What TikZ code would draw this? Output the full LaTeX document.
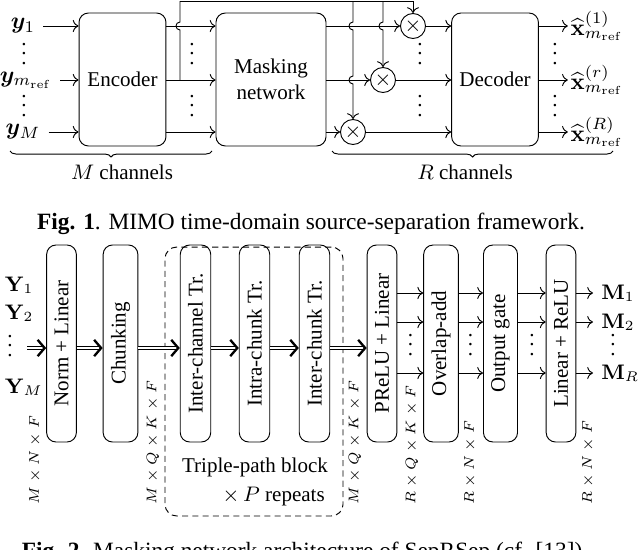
\documentclass[tikz,border=0pt]{standalone}
\usepackage{amsmath}
\usepackage{amssymb}
\usepackage{bm}
\usepackage[no-math]{fontspec}
\setmainfont{Liberation Serif}
\usetikzlibrary{positioning, calc, arrows.meta, decorations.pathreplacing}
\tikzset{
	box/.style={draw, rounded corners=4pt, align=center},
	tall/.style={box, rotate=90, minimum width=84.3pt},
	mult/.style={draw, circle, inner sep=0pt, minimum size=10.7pt},
	dbl/.style={double, double distance=0.8pt, -{Straight Barb[length=3pt,width=7pt,line width=1pt]}},
	dim/.style={rotate=90, anchor=west, font=\fontsize{5.6pt}{6pt}\selectfont, inner sep=0pt},
	hop/.style={out=180, in=180, looseness=1.7}
}

\begin{document}
\begin{tikzpicture}[x=0.428pt, y=-0.428pt, font=\small]
	\useasboundingbox (0,0) rectangle (640,549);
	% Fig. 1: framework
	\node[box, minimum width=37.2pt, minimum height=56.9pt] (enc) at (122.5,79.5) {Encoder};
	\node[box, minimum width=47.1pt, minimum height=56.9pt] (mask) at (271,79.5) {Masking\\network};
	\node[box, minimum width=36.8pt, minimum height=56.9pt] (dec) at (495,79.5) {Decoder};
	\node[font=\normalsize] (y1) at (23,26) {$\bm{y}_1$};
	\node[font=\normalsize] (yr) at (26,80) {$\bm{y}_{m_\mathrm{ref}}$};
	\node[font=\normalsize] (yM) at (23,132) {$\bm{y}_M$};
	\foreach \n in {y1,yr,yM}
		\draw[->] (\n) -- (enc.west |- \n);
	\foreach \n in {y1,yr,yM}
		\draw[->] (enc.east |- \n) -- (mask.west |- \n);
	\node[mult] (m1) at (413,26) {$\times$};
	\node[mult] (m2) at (383,80) {$\times$};
	\node[mult] (m3) at (353,132) {$\times$};
	\foreach \m in {m1,m2,m3} {
		\draw[->] (mask.east |- \m) -- (\m);
		\draw[->] (\m) -- (dec.west |- \m);
	}
	% skip connection with hops
	\coordinate (sk) at (180,80);
	\coordinate (tp) at (180,1.5);
	\draw (sk) -- ($(sk |- y1)+(0,4)$) to[hop] ($(sk |- y1)+(0,-4)$) -- (tp) -- (tp -| m1);
	\draw[->] (tp -| m1) -- (m1);
	\draw[->] (tp -| m2) -- ($(m2 |- y1)+(0,-4)$) to[hop] ($(m2 |- y1)+(0,4)$) -- (m2);
	\draw[->] (tp -| m3) -- ($(m3 |- y1)+(0,-4)$) to[hop] ($(m3 |- y1)+(0,4)$)
		-- ($(m3 |- yr)+(0,-4)$) to[hop] ($(m3 |- yr)+(0,4)$) -- (m3);
	\foreach \m/\s in {m1/1, m2/r, m3/R}
		\draw[->] (dec.east |- \m) -- ++(29,0) node[right, inner sep=1pt, font=\normalsize] (x\s) {$\widehat{\mathbf{x}}^{(\s)}_{m_\mathrm{ref}}$};
	\foreach \x/\n in {24/a, 192/b, 420/c, 555/d} {
		\node (\n1) at (\x,47) {$\vdots$};
		\node (\n2) at (\x,99) {$\vdots$};
	}
	\coordinate (bl1) at (10,151);
	\coordinate (bl2) at (212,151);
	\coordinate (br1) at (332,151);
	\coordinate (br2) at (613,151);
	\draw[decorate, decoration={brace, mirror, amplitude=2.6pt}] (bl1) -- (bl2);
	\draw[decorate, decoration={brace, mirror, amplitude=2.6pt}] (br1) -- (br2);
	\node (mch) at (122,172) {$M$ channels};
	\node (rch) at (465,172) {$R$ channels};
	\node[font=\normalsize, anchor=base] (cap1) at (311,229) {\textbf{Fig. 1}. MIMO time-domain source-separation framework.};

	% Fig. 2: masking network
	\node[tall] (nl) at (61.5,343.5) {Norm + Linear};
	\node[tall] (chk) at (120.5,343.5) {Chunking};
	\node[tall] (ict) at (195.5,343.5) {Inter-channel Tr.};
	\node[tall] (iat) at (254.5,343.5) {Intra-chunk Tr.};
	\node[tall] (ick) at (314.5,343.5) {Inter-chunk Tr.};
	\node[tall] (pl) at (382,343.5) {PReLU + Linear};
	\node[tall] (ola) at (441,343.5) {Overlap-add};
	\node[tall] (og) at (500.5,343.5) {Output gate};
	\node[tall] (lr) at (561,343.5) {Linear + ReLU};
	\node[draw, dashed, dash pattern=on 2.6pt off 1.8pt, rounded corners=5pt,
		minimum width=76.2pt, minimum height=115.1pt] (tpb) at (254,381.5) {};
	\node (tpl) at (255,467) {Triple-path block};
	\node[anchor=east] (rep) at (333,497) {$\times\,P$ repeats};

	\node[anchor=west, inner sep=1pt] (Y1) at (2,285) {$\mathbf{Y}_1$};
	\node[anchor=west, inner sep=1pt] (Y2) at (2,313) {$\mathbf{Y}_2$};
	\node (Yd) at (10,339) {$\vdots$};
	\node[anchor=west, inner sep=1pt] (YM) at (2,387) {$\mathbf{Y}_M$};

	\coordinate (mr) at (0,348);
	\coordinate (in) at (27,348);
	\draw[dbl] (in) -- (nl.north |- mr);
	\foreach \a/\b in {nl/chk, chk/ict, ict/iat, iat/ick, ick/pl}
		\draw[dbl] (\a.south |- mr) -- (\b.north |- mr);

	\coordinate (o1) at (0,293);
	\coordinate (o2) at (0,322);
	\coordinate (o3) at (0,373);
	\foreach \a/\b in {pl/ola, ola/og, og/lr}
		\foreach \r in {o1,o2,o3}
			\draw[->] (\a.south |- \r) -- (\b.north |- \r);
	\node[anchor=west] (M1) at (593,293) {$\mathbf{M}_1$};
	\node[anchor=west] (M2) at (593,322) {$\mathbf{M}_2$};
	\node[anchor=west] (MR) at (593,373) {$\mathbf{M}_R$};
	\foreach \n in {M1,M2,MR}
		\draw[->] (lr.south |- \n) -- (\n.west);
	\foreach \x/\n in {410.5/e, 470.5/f, 532/g, 613/h}
		\node (\n3) at (\x,338) {$\vdots$};

	\node[dim] (s1) at (35,505) {$M\times N\times F$};
	\node[dim] (s2) at (153,505) {$M\times Q\times K\times F$};
	\node[dim] (s3) at (355,505) {$M\times Q\times K\times F$};
	\node[dim] (s4) at (412,505) {$R\times Q\times K\times F$};
	\node[dim] (s5) at (470,505) {$R\times N\times F$};
	\node[dim] (s6) at (588,505) {$R\times N\times F$};

	\node[font=\normalsize, anchor=base] (cap2) at (305,558) {\textbf{Fig. 2}. Masking network architecture of SepRSep (cf. [13]).};
\end{tikzpicture}
\end{document}
